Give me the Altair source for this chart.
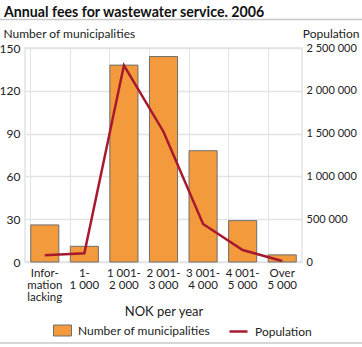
import altair as alt
import pandas as pd

categories = ["Infor-|mation|lacking", "1-|1 000", "1 001-|2 000", "2 001-|3 000",
              "3 001-|4 000", "4 001-|5 000", "Over|5 000"]
municipalities = [26, 11, 138, 144, 78, 29, 5]
population = [78000, 102000, 2298000, 1522000, 444000, 140000, 12000]

df = pd.DataFrame({"cat": categories, "mun": municipalities, "pop": population})

FONT = "Lato"
ORANGE = "#f29a3c"
RED = "#a6192e"
GRID = "#e3e3e6"
FS = 12

x = alt.X("cat:N", sort=categories, title="NOK per year",
          scale=alt.Scale(paddingInner=0.29, paddingOuter=0.145),
          axis=alt.Axis(labelExpr="split(datum.value, '|')", labelAngle=0,
                        labelLineHeight=12, labelBaseline="top", labelPadding=5,
                        labelFontSize=11.5,
                        ticks=False, domain=False, grid=True, bandPosition=0,
                        gridColor=GRID, titleFontWeight="normal", titleFontSize=13,
                        titlePadding=3))

bars = alt.Chart(df).mark_bar(stroke="#6e6e6e", strokeWidth=1).encode(
    x=x,
    y=alt.Y("mun:Q", scale=alt.Scale(domain=[0, 150]),
            axis=alt.Axis(values=[0, 30, 60, 90, 120, 150], title="Number of municipalities",
                          titleAngle=0, titleAlign="left", titleBaseline="middle",
                          titleX=-22, titleY=-15, titleFontWeight="normal",
                          ticks=False, domain=False, gridColor=GRID, gridWidth=1.5,
                          labelPadding=5)),
    fill=alt.Fill("k:N", scale=alt.Scale(domain=["Number of municipalities"], range=[ORANGE]),
                  legend=alt.Legend(title=None, orient="none", legendX=28, legendY=273,
                                    symbolType="M-1,-0.61L1,-0.61L1,0.61L-1,0.61Z",
                                    symbolSize=324, symbolStrokeColor="#6e6e6e",
                                    symbolStrokeWidth=1, symbolFillColor=ORANGE,
                                    labelFontSize=FS, symbolOpacity=1, labelOffset=6)),
).transform_calculate(k="'Number of municipalities'")

line = alt.Chart(df).mark_line(strokeWidth=2.5).encode(
    x=x,
    y=alt.Y("pop:Q", scale=alt.Scale(domain=[0, 2500000]),
            axis=alt.Axis(orient="right", values=[0, 500000, 1000000, 1500000, 2000000, 2500000],
                          labelExpr="replace(replace(format(datum.value, ','), ',', ' '), ',', ' ')",
                          labelFontSize=11,
                          title="Population", titleAngle=0, titleAlign="right",
                          titleBaseline="middle", titleX=57, titleY=-15,
                          titleFontWeight="normal",
                          ticks=False, domain=False, grid=False, labelPadding=4)),
    stroke=alt.Stroke("k:N", scale=alt.Scale(domain=["Population"], range=[RED]),
                      legend=alt.Legend(title=None, orient="none", legendX=203, legendY=273,
                                        symbolType="stroke", symbolSize=324,
                                        symbolStrokeWidth=2.5, labelFontSize=FS,
                                        labelOffset=6)),
).transform_calculate(k="'Population'")

sep = alt.Chart(pd.DataFrame({"a": [0]})).mark_rule(color="#c8c8c8", strokeWidth=1.5).encode(
    x=alt.value(-25), x2=alt.value(337), y=alt.value(-28.5))
sep2 = alt.Chart(pd.DataFrame({"a": [0]})).mark_rule(color="#c8c8c8", strokeWidth=1.5).encode(
    x=alt.value(-25), x2=alt.value(337), y=alt.value(295))

chart = alt.layer(bars, line, sep, sep2).resolve_scale(
    y="independent", fill="independent", stroke="independent"
).properties(
    width=277, height=214,
    autosize=alt.AutoSizeParams(type="none"),
    padding={"left": 25, "top": 48, "right": 60, "bottom": 85},
    title=alt.Title("Annual fees for wastewater service. 2006", anchor="start",
                    frame="group", dx=-21, dy=10, offset=9, fontSize=14.2, fontWeight="bold",
                    font=FONT, color="#111111"),
).configure(font=FONT).configure_axis(
    labelFont=FONT, titleFont=FONT, labelFontSize=FS, titleFontSize=FS,
    labelColor="#222222", titleColor="#222222"
).configure_legend(labelFont=FONT, labelColor="#222222").configure_view(
    stroke=GRID, strokeWidth=1.5)

chart.save("out.html", embed_options={"renderer": "svg", "actions": False})
